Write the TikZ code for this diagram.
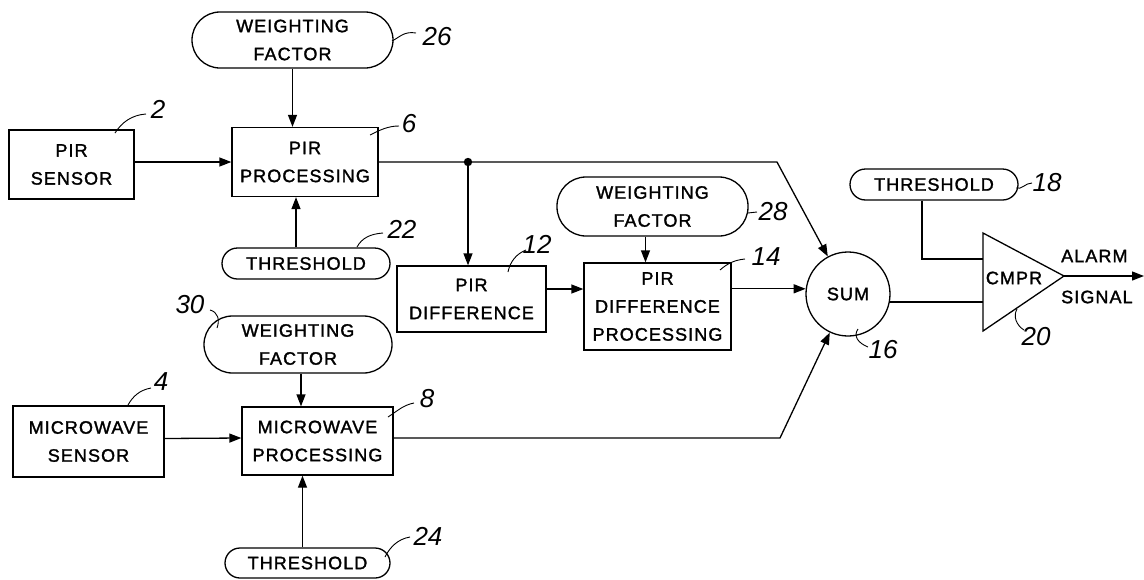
\documentclass[tikz,border=0pt]{standalone}
\usepackage{fontspec}
\setmainfont{Liberation Sans}[LetterSpace=6,FakeBold=1.6]
\newfontfamily\numfont{Liberation Sans}
\usetikzlibrary{arrows.meta,calc}
\begin{document}
\begin{tikzpicture}[x=1pt,y=-1pt,
  every node/.style={font=\fontsize{18}{28}\selectfont, align=center, inner sep=0pt},
  blk/.style={draw, line width=1.3pt},
  pill/.style={draw, line width=1.3pt, rounded corners=#1},
  num/.style={font=\numfont\itshape\fontsize{26}{26}\selectfont},
  lead/.style={line width=0.9pt},
  conn/.style={line width=1.3pt},
  arr/.style={conn, -{Triangle[length=12pt,width=9pt]}}]
\useasboundingbox (0,0) rectangle (1144,579);

% blocks
\node[pill=28pt, minimum width=201pt, minimum height=56pt] (wf26) at (292.5,40) {WEIGHTING\\FACTOR};
\node[blk, minimum width=125pt, minimum height=69pt] (pirs) at (71.5,164.5) {PIR\\SENSOR};
\node[blk, minimum width=146pt, minimum height=69pt] (pirp) at (305,162) {PIR\\PROCESSING};
\node[pill=15.5pt, minimum width=168pt, minimum height=31pt] (th22) at (306,263.5) {THRESHOLD};
\node[blk, minimum width=149pt, minimum height=66pt] (pird) at (471.5,299) {PIR\\DIFFERENCE};
\node[pill=29pt, minimum width=191pt, minimum height=59pt] (wf28) at (652.5,206.5) {WEIGHTING\\FACTOR};
\node[blk, minimum width=147pt, minimum height=87pt] (pirdp) at (657.5,306.5) {PIR\\DIFFERENCE\\PROCESSING};
\node[draw, circle, line width=1.3pt, minimum size=84pt] (sum) at (848,294) {SUM};
\node[pill=15.5pt, minimum width=168pt, minimum height=31pt] (th18) at (934,184.5) {THRESHOLD};
\node[pill=28.5pt, minimum width=188pt, minimum height=57pt] (wf30) at (298,344.5) {WEIGHTING\\FACTOR};
\node[blk, minimum width=151pt, minimum height=71pt] (mws) at (88.5,441.5) {MICROWAVE\\SENSOR};
\node[blk, minimum width=151pt, minimum height=68pt] (mwp) at (317.5,441) {MICROWAVE\\PROCESSING};
\node[pill=15pt, minimum width=165pt, minimum height=30pt] (th24) at (307.5,563) {THRESHOLD};

% comparator
\draw[conn] (983,233) coordinate (cmprT) -- (1064,276) coordinate (cmprtip)
  -- (983,331) coordinate (cmprB) -- cycle;
\node (cmpr) at (1014,278) {CMPR};
\coordinate (cmprIn1) at (983,259);
\coordinate (cmprIn2) at (983,302);
\coordinate (aout) at (1144,276);
\node[anchor=west] (alarm) at (1061,256) {ALARM};
\node[anchor=west] (signal) at (1061,297) {SIGNAL};

% junctions
\coordinate (dot) at (468,162);
\coordinate (bend1) at (777,162);
\coordinate (bend2) at (780,438);
\fill (dot) circle (4.2pt);

% connectors
\draw[arr] (pirs.east |- pirp.west) -- (pirp.west);
\draw[arr] (wf26.south) -- (wf26.south |- pirp.north);
\draw[arr] ([xshift=-10pt]th22.north) -- ([xshift=-10pt]th22.north |- pirp.south);
\draw[arr] (pirp.east) -- (dot) -- (bend1) -- (sum);
\draw[arr] (dot) -- (dot |- pird.north);
\draw[arr] ([yshift=10pt]pird.east) -- ([yshift=10pt]pird.east -| pirdp.west);
\draw[arr] ([xshift=-7pt]wf28.south) -- ([xshift=-7pt]wf28.south |- pirdp.north);
\draw[arr] (sum.173 -| pirdp.east) -- (sum.173);
\draw[arr] ([yshift=3pt]mws.east -| mws.east) -- ([yshift=3pt]mwp.west);
\draw[arr] ([xshift=3pt]wf30.south) -- ([xshift=3pt]wf30.south |- mwp.north);
\draw[arr] ([xshift=-5pt]th24.north) -- ([xshift=-5pt]th24.north |- mwp.south);
\draw[arr] ([yshift=3pt]mwp.east) -- (bend2) -- (sum);
\draw[conn] (sum.-11) -- (sum.-11 -| cmprIn2);
\draw[conn] ([xshift=-12pt]th18.south) |- (cmprIn1);
\draw[arr] (cmprtip) -- (aout);

% reference numerals
\node[num] (n26) at (437,37) {26};
\draw[lead] (392,41) .. controls (400,37) and (404,31) .. (416,33);
\node[num] (n2) at (158,109) {2};
\draw[lead] (115,133) .. controls (122,122) and (132,115) .. (146,114);
\node[num] (n6) at (409,124) {6};
\draw[lead] (370,135) .. controls (380,130) and (388,126) .. (399,126);
\node[num] (n22) at (402,229) {22};
\draw[lead] (357,247) .. controls (362,238) and (370,234) .. (383,233);
\node[num] (n12) at (537,244) {12};
\draw[lead] (508,272) .. controls (510,262) and (516,254) .. (526,250);
\node[num] (n28) at (773,212) {28};
\draw[lead] (748,213) -- (757,212);
\node[num] (n14) at (766,257) {14};
\draw[lead] (720,270) .. controls (728,263) and (735,260) .. (745,259);
\node[num] (n18) at (1047,183) {18};
\draw[lead] (1016,188) .. controls (1022,190) and (1025,183) .. (1032,183);
\node[num] (n16) at (883,350) {16};
\draw[lead] (858,329) .. controls (853,336) and (858,343) .. (868,347);
\node[num] (n20) at (1036,337) {20};
\draw[lead] (1017,309) .. controls (1013,316) and (1016,325) .. (1024,330);
\node[num] (n30) at (190,305) {30};
\draw[lead] (210,310) .. controls (218,312) and (220,320) .. (217,328);
\node[num] (n4) at (161,382) {4};
\draw[lead] (128,405) .. controls (133,396) and (140,390) .. (151,388);
\node[num] (n8) at (427,399) {8};
\draw[lead] (388,417) .. controls (396,412) and (403,405) .. (414,403);
\node[num] (n24) at (428,536) {24};
\draw[lead] (385,557) .. controls (390,547) and (398,539) .. (410,537);
\end{tikzpicture}
\end{document}
